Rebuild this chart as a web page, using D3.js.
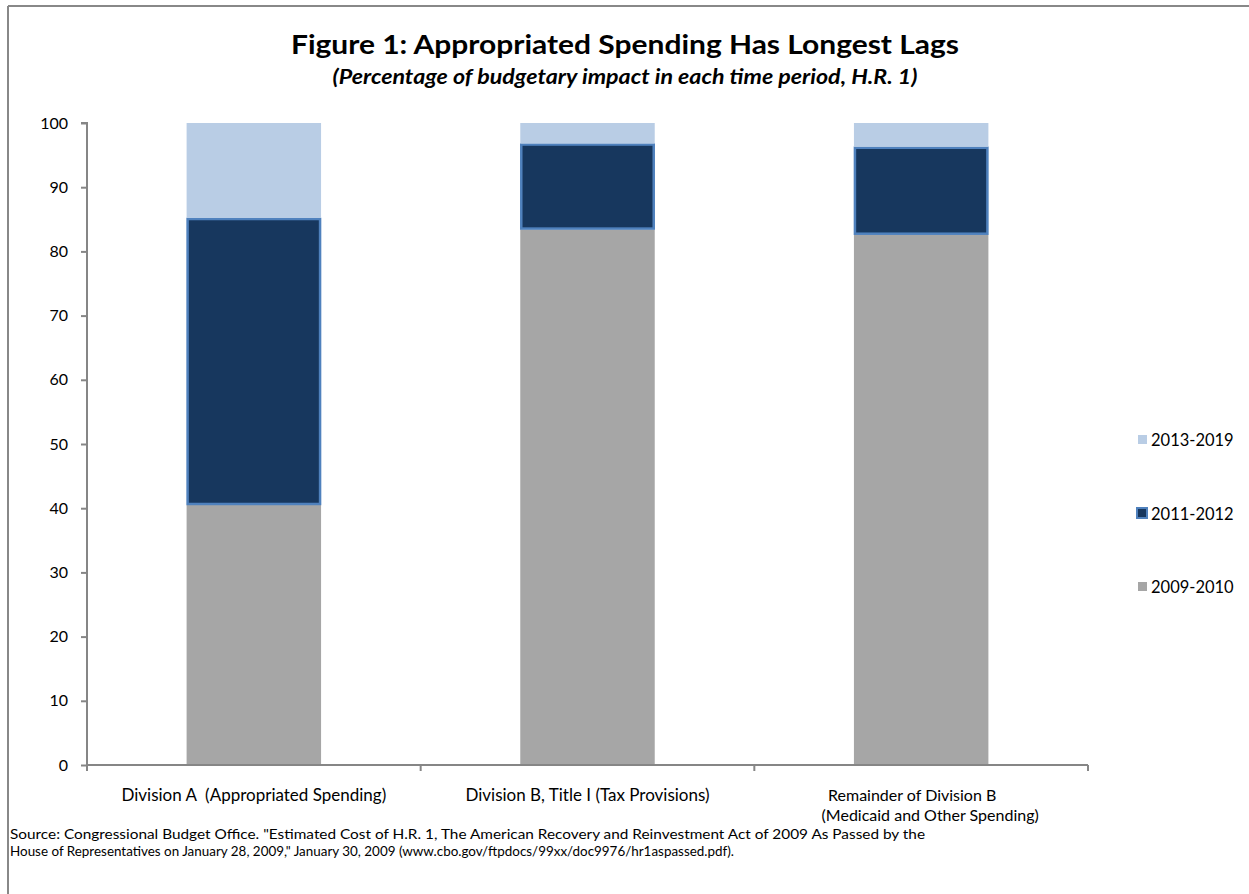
<!DOCTYPE html>
<html>
<head>
<meta charset="utf-8">
<script src="https://cdn.jsdelivr.net/npm/d3@7"></script>
<style>
  body { margin: 0; background: #fff; }
  svg { display: block; font-family: Lato, Carlito, Calibri, sans-serif; }
</style>
</head>
<body>
<div id="chart"></div>
<script>
const categories = ["Division A  (Appropriated Spending)", "Division B, Title I (Tax Provisions)", "Remainder of Division B|(Medicaid and Other Spending)"];
const seriesNames = ["2009-2010", "2011-2012", "2013-2019"];
const s2009_2010 = [40.5, 83.4, 82.6];
const s2011_2012 = [44.7, 13.4, 13.7];
const s2013_2019 = [14.8, 3.2, 3.7];
const yTicks = [0, 10, 20, 30, 40, 50, 60, 70, 80, 90, 100];
const colors = { "2009-2010": "#a6a6a6", "2011-2012": "#17375e", "2013-2019": "#b9cde5" };

const width = 1249, height = 894;
const margin = { top: 123, left: 87, right: 161, bottom: 129 };
const innerWidth = width - margin.left - margin.right;
const innerHeight = height - margin.top - margin.bottom;

const svg = d3.select("#chart").append("svg").attr("width", width).attr("height", height);

// outer frame: only top and left edges fall inside the picture
svg.append("line").attr("x1", 8).attr("x2", 8).attr("y1", 6).attr("y2", height)
  .attr("stroke", "#888").attr("stroke-width", 2);
svg.append("line").attr("x1", 8).attr("x2", width).attr("y1", 6).attr("y2", 6)
  .attr("stroke", "#888").attr("stroke-width", 2);

svg.append("text").attr("x", 625).attr("y", 54).attr("text-anchor", "middle")
  .attr("font-size", 27).attr("font-weight", "bold").attr("fill", "#000")
  .attr("textLength", 668).attr("lengthAdjust", "spacingAndGlyphs")
  .text("Figure 1: Appropriated Spending Has Longest Lags");
svg.append("text").attr("x", 625).attr("y", 84).attr("text-anchor", "middle")
  .attr("font-size", 20).attr("font-weight", "bold").attr("font-style", "italic").attr("fill", "#000")
  .attr("textLength", 585).attr("lengthAdjust", "spacingAndGlyphs")
  .text("(Percentage of budgetary impact in each time period, H.R. 1)");

const g = svg.append("g").attr("transform", `translate(${margin.left},${margin.top})`);

const x = d3.scaleBand().domain(categories).range([0, innerWidth]).paddingInner(0.597).paddingOuter(0.2985);
const y = d3.scaleLinear().domain([0, 100]).range([innerHeight, 0]);

const rows = categories.map((c, i) => ({
  cat: c, "2009-2010": s2009_2010[i], "2011-2012": s2011_2012[i], "2013-2019": s2013_2019[i]
}));
const stacked = d3.stack().keys(seriesNames)(rows);

stacked.forEach(layer => {
  const isMid = layer.key === "2011-2012";
  g.append("g").selectAll("rect").data(layer).join("rect")
    .attr("x", d => x(d.data.cat) + (isMid ? 1 : 0))
    .attr("width", x.bandwidth() - (isMid ? 2 : 0))
    .attr("y", d => y(d[1]) + (isMid ? 1 : 0))
    .attr("height", d => y(d[0]) - y(d[1]) - (isMid ? 2 : 0))
    .attr("fill", colors[layer.key])
    .attr("stroke", isMid ? "#4f81bd" : "none")
    .attr("stroke-width", isMid ? 2.5 : 0);
});

// y axis
const yAxis = g.append("g").call(d3.axisLeft(y).tickValues(yTicks).tickSize(6).tickPadding(13));
yAxis.select(".domain").attr("stroke", "#868686").attr("stroke-width", 2).attr("d", `M-6,0H0V${innerHeight}`);
yAxis.selectAll(".tick line").attr("stroke", "#868686").attr("stroke-width", 2);
yAxis.selectAll("text").attr("font-size", 16).attr("fill", "#000").style("font-family", "Lato, sans-serif");

// x axis
const xAxisG = g.append("g").attr("transform", `translate(0,${innerHeight})`);
xAxisG.append("line").attr("x1", 0).attr("x2", innerWidth).attr("stroke", "#868686").attr("stroke-width", 2);
const bounds = [0, ...categories.map(c => x(c) + x.bandwidth() / 2 + x.step() / 2)];
xAxisG.selectAll(".xtick").data(bounds).join("line")
  .attr("x1", d => d).attr("x2", d => d).attr("y1", 0).attr("y2", 6)
  .attr("stroke", "#868686").attr("stroke-width", 2);

categories.forEach((c, i) => {
  const cx = x(c) + x.bandwidth() / 2;
  const lines = c.split("|");
  lines.forEach((ln, j) => {
    const shift = lines.length > 1 ? (j === 0 ? -9 : 9) : 0;
    xAxisG.append("text").attr("x", cx + shift).attr("y", 36 + j * 19.5)
      .attr("text-anchor", "middle").attr("font-size", lines.length > 1 ? 16 : 17).attr("fill", "#000")
      .style("white-space", "pre").text(ln);
  });
});

// legend
const legendY = { "2013-2019": 440, "2011-2012": 514, "2009-2010": 587 };
const legend = svg.append("g");
seriesNames.forEach(k => {
  const isMid = k === "2011-2012";
  legend.append("rect").attr("x", isMid ? 1137 : 1138).attr("y", legendY[k] - 5 - (isMid ? 1 : 0))
    .attr("width", isMid ? 10 : 9).attr("height", isMid ? 10 : 9)
    .attr("fill", colors[k]).attr("stroke", isMid ? "#4f81bd" : "none").attr("stroke-width", isMid ? 2 : 0);
  legend.append("text").attr("x", 1151).attr("y", legendY[k] + 6).attr("font-size", 16.5).attr("fill", "#000").text(k);
});

// source note
const src = [
  "Source: Congressional Budget Office. \"Estimated Cost of H.R. 1, The American Recovery and Reinvestment Act of 2009  As Passed by the",
  "House of Representatives on January 28, 2009,\" January 30, 2009 (www.cbo.gov/ftpdocs/99xx/doc9976/hr1aspassed.pdf)."
];
const srcLen = [915, 724];
src.forEach((t, i) => {
  svg.append("text").attr("x", 10).attr("y", 839 + i * 17).attr("font-size", 13).attr("fill", "#000")
    .attr("textLength", srcLen[i]).attr("lengthAdjust", "spacingAndGlyphs").text(t);
});
</script>
</body>
</html>
